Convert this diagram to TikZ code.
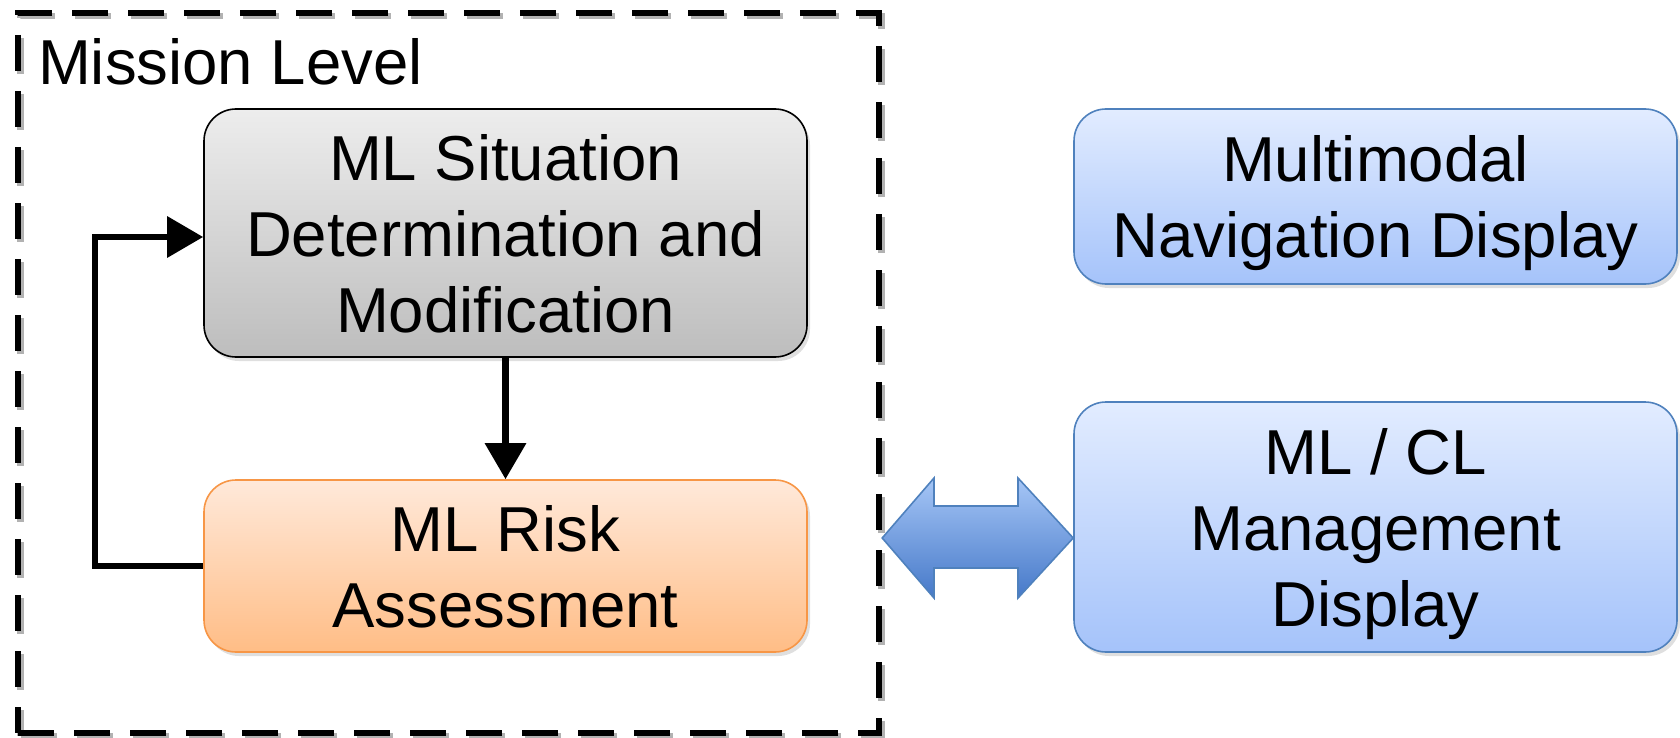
\documentclass[tikz,border=0pt]{standalone}
\usepackage{fontspec}
\setmainfont{Liberation Sans}
\usetikzlibrary{arrows.meta,shadows}

\definecolor{grayTop}{HTML}{EDEDED}
\definecolor{grayBot}{HTML}{BDBDBD}
\definecolor{orTop}{HTML}{FFE9DA}
\definecolor{orBot}{HTML}{FFBD86}
\definecolor{orLine}{HTML}{F79646}
\definecolor{blTop}{HTML}{E2ECFF}
\definecolor{blBot}{HTML}{A5C3FA}
\definecolor{blLine}{HTML}{4F81BD}
\definecolor{arTop}{HTML}{A6C6F6}
\definecolor{arBot}{HTML}{4679C9}

\tikzset{
  boxfont/.style={font=\fontsize{31.75pt}{38pt}\selectfont, align=center, text=black},
  box/.style={boxfont, rounded corners=16pt, inner sep=0pt, text depth=0pt,
    minimum width=301.5pt, line width=0.8pt,
    drop shadow={shadow xshift=1.5pt, shadow yshift=-2pt, opacity=0.25}},
  graybox/.style={box, draw=black, top color=grayTop, bottom color=grayBot},
  orangebox/.style={box, draw=orLine, top color=orTop, bottom color=orBot},
  bluebox/.style={box, draw=blLine, top color=blTop, bottom color=blBot},
  flow/.style={line width=3.2pt, -{Triangle[length=18pt,width=20pt]}},
  framebox/.style={line width=3.2pt, dash pattern=on 18pt off 10pt,
    minimum width=430.5pt, minimum height=360pt, inner sep=0pt},
}

\begin{document}
\begin{tikzpicture}[x=0.5pt, y=-0.5pt]
  \useasboundingbox (0,0) rectangle (1680,738);

  % dashed mission-level frame with a soft offset shadow
  \node[framebox, draw=black!30] at (451,376) {};
  \node[framebox, draw=black] (frame) at (448.5,373) {};
  \node[boxfont, anchor=base west] (title) at (31,84) {Mission Level};

  % mission-level blocks
  \node[graybox, minimum height=124pt] (sit) at (505.5,233)
    {ML Situation\\Determination and\\Modification};
  \node[orangebox, minimum height=86pt] (risk) at (505.5,566)
    {ML Risk\\Assessment};

  % displays
  \node[bluebox, minimum height=87.5pt] (nav) at (1375.5,196.5)
    {Multimodal\\Navigation Display};
  \node[bluebox, minimum height=125pt] (mgmt) at (1375.5,527)
    {ML / CL\\Management\\Display};

  % flows inside the frame
  \draw[flow] (sit.south) -- (risk.north);
  \draw[flow] (risk.west) -- ++(-108,0) |- ([yshift=-2pt]sit.west);

  % two-way block arrow between the frame and the management display
  \coordinate (lt) at (frame.east |- 0,538);
  \coordinate (rt) at (mgmt.west |- 0,538);
  \draw[blLine, line width=0.8pt, top color=arTop, bottom color=arBot]
    (lt) -- (934,478) -- (934,506) -- (1018,506) -- (1018,478) -- (rt)
    -- (1018,598) -- (1018,568) -- (934,568) -- (934,598) -- cycle;
\end{tikzpicture}
\end{document}
